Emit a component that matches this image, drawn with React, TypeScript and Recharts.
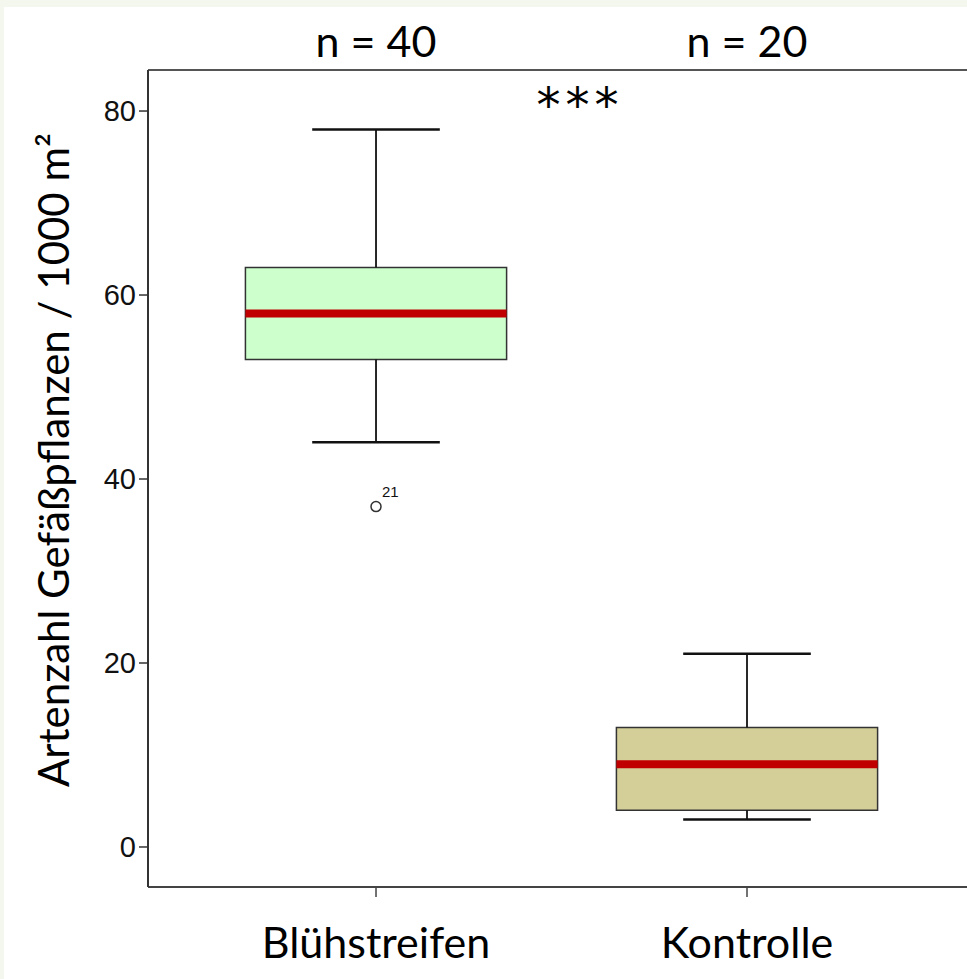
import React from 'react';
import { ComposedChart, XAxis, YAxis, ReferenceArea, ReferenceLine, Scatter } from 'recharts';

// Boxplot: Artenzahl Gefäßpflanzen, Blühstreifen vs. Kontrolle
const categories = ['Blühstreifen', 'Kontrolle'];
const nCounts = [40, 20];
const whiskerLow = [44, 3];
const q1 = [53, 4];
const median = [58, 9];
const q3 = [63, 13];
const whiskerHigh = [78, 21];
const outliers = [{ group: 1, value: 37, id: '21' }];
const boxFills = ['#ccffcc', '#d4cf99'];
const yTicks = [0, 20, 40, 60, 80];
const significance = '***';

const BOX_HALF = 0.352;
const CAP_HALF = 0.172;
const X_DOMAIN: [number, number] = [0.3854, 2.593];
const Y_DOMAIN: [number, number] = [-4.35, 84.46];
const N_LABEL_Y = 57;

const outlierData = outliers.map(o => ({ x: o.group, y: o.value, id: o.id }));

const OutlierShape = (props: any) => {
  const { cx, cy, payload } = props;
  return (
    <g>
      <circle cx={cx} cy={cy} r={5} fill="#fff" stroke="#333" strokeWidth={1.5} />
      <text x={cx + 6} y={cy - 10} fontSize={15} fontFamily="Liberation Sans" fill="#111">
        {payload.id}
      </text>
    </g>
  );
};

// bottom tick draws the group name and the n label above the frame
const CategoryTick = (props: any) => {
  const { x, y, payload } = props;
  const i = payload.value - 1;
  return (
    <g>
      <text x={x} y={y + 31} textAnchor="middle" fontSize={43} fontFamily="Lato" fill="#000">
        {categories[i]}
      </text>
      <text x={x} y={N_LABEL_Y} textAnchor="middle" fontSize={43} fontFamily="Lato" fill="#000">
        {`n = ${nCounts[i]}`}
      </text>
    </g>
  );
};

const App: React.FC = () => {
  return (
    <div style={{ position: 'absolute', left: 0, top: 0, width: 967, height: 979, background: '#f4f7ee', overflow: 'hidden' }}>
      <div style={{ position: 'absolute', left: 4, top: 7, width: 963, height: 972, background: '#fff' }} />
      <div style={{ position: 'absolute', left: 0, top: 0 }}>
        <ComposedChart width={967} height={979} margin={{ top: 0, right: 0, bottom: 0, left: 0 }}>
          <XAxis
            xAxisId="b"
            type="number"
            dataKey="x"
            domain={X_DOMAIN}
            ticks={[1, 2]}
            allowDataOverflow
            height={92}
            tickSize={10}
            tickMargin={30}
            axisLine={{ stroke: '#444', strokeWidth: 2 }}
            tickLine={{ stroke: '#444', strokeWidth: 1.5 }}
            tick={<CategoryTick />}
          />
          <XAxis
            xAxisId="t"
            orientation="top"
            type="number"
            domain={X_DOMAIN}
            allowDataOverflow
            height={70}
            tick={false}
            tickLine={false}
            axisLine={{ stroke: '#555', strokeWidth: 2 }}
          />
          <YAxis
            type="number"
            domain={Y_DOMAIN}
            ticks={yTicks}
            allowDataOverflow
            width={148}
            tickSize={9}
            tickMargin={3}
            axisLine={{ stroke: '#333', strokeWidth: 2 }}
            tickLine={{ stroke: '#333', strokeWidth: 1.5 }}
            tick={{ fontSize: 29, fill: '#111', fontFamily: 'Liberation Sans' }}
          />

          {categories.map((c, i) => (
            <ReferenceLine
              key={`wh-${c}`}
              xAxisId="b"
              segment={[{ x: i + 1, y: q3[i] }, { x: i + 1, y: whiskerHigh[i] }]}
              stroke="#111"
              strokeWidth={1.8}
            />
          ))}
          {categories.map((c, i) => (
            <ReferenceLine
              key={`wl-${c}`}
              xAxisId="b"
              segment={[{ x: i + 1, y: whiskerLow[i] }, { x: i + 1, y: q1[i] }]}
              stroke="#111"
              strokeWidth={1.8}
            />
          ))}
          {categories.map((c, i) => (
            <ReferenceLine
              key={`ch-${c}`}
              xAxisId="b"
              segment={[{ x: i + 1 - CAP_HALF, y: whiskerHigh[i] }, { x: i + 1 + CAP_HALF, y: whiskerHigh[i] }]}
              stroke="#111"
              strokeWidth={2.5}
            />
          ))}
          {categories.map((c, i) => (
            <ReferenceLine
              key={`cl-${c}`}
              xAxisId="b"
              segment={[{ x: i + 1 - CAP_HALF, y: whiskerLow[i] }, { x: i + 1 + CAP_HALF, y: whiskerLow[i] }]}
              stroke="#111"
              strokeWidth={2.5}
            />
          ))}
          {categories.map((c, i) => (
            <ReferenceArea
              key={`box-${c}`}
              xAxisId="b"
              x1={i + 1 - BOX_HALF}
              x2={i + 1 + BOX_HALF}
              y1={q1[i]}
              y2={q3[i]}
              fill={boxFills[i]}
              fillOpacity={1}
              stroke="#333"
              strokeWidth={1.5}
              strokeOpacity={1}
            />
          ))}
          {categories.map((c, i) => (
            <ReferenceLine
              key={`med-${c}`}
              xAxisId="b"
              segment={[{ x: i + 1 - BOX_HALF, y: median[i] }, { x: i + 1 + BOX_HALF, y: median[i] }]}
              stroke="#c00000"
              strokeWidth={8}
            />
          ))}

          <Scatter xAxisId="b" data={outlierData} dataKey="y" shape={OutlierShape} isAnimationActive={false} />
        </ComposedChart>
      </div>
      <svg width={967} height={979} style={{ position: 'absolute', left: 0, top: 0, pointerEvents: 'none' }}>
        <text x={580} y={122} textAnchor="middle" fontSize={48} fontFamily="DejaVu Sans" letterSpacing={5} fill="#000">
          {significance}
        </text>
        <text
          transform="translate(69, 460) rotate(-90)"
          textAnchor="middle"
          fontSize={42}
          fontFamily="Lato"
          fill="#000"
        >
          Artenzahl Gefäßpflanzen / 1000 m²
        </text>
      </svg>
    </div>
  );
};

export default App;
